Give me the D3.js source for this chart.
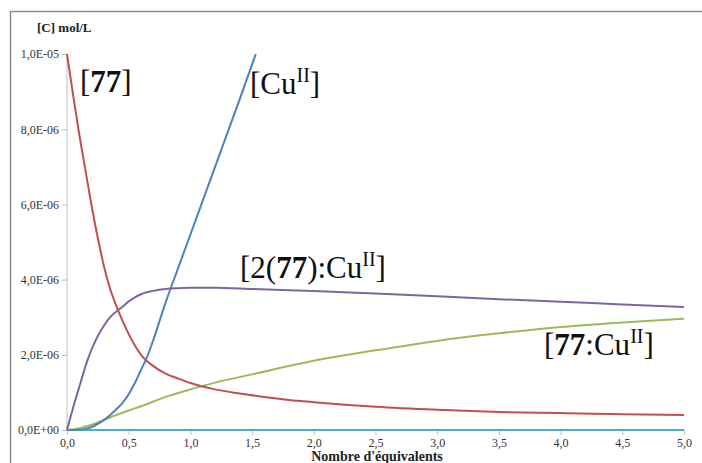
<!DOCTYPE html>
<html><head><meta charset="utf-8">
<script src="https://cdn.jsdelivr.net/npm/d3@7"></script>
<style>body{margin:0;background:#fff}svg{display:block}
svg text{font-family:"Liberation Serif","Times New Roman",Times,"DejaVu Serif",serif !important;}
</style>
</head><body>
<script>
const xTicks = [0,0.5,1,1.5,2,2.5,3,3.5,4,4.5,5];
const xTickLabels = ["0,0","0,5","1,0","1,5","2,0","2,5","3,0","3,5","4,0","4,5","5,0"];
const yTicks = [0,2e-6,4e-6,6e-6,8e-6,1e-5];
const yTickLabels = ["0,0E+00","2,0E-06","4,0E-06","6,0E-06","8,0E-06","1,0E-05"];

const ligandX = [0,0.05,0.1,0.15,0.2,0.25,0.3,0.35,0.4,0.45,0.5,0.55,0.6,0.7,0.8,0.9,1.0,1.2,1.4,1.6,1.8,2.0,2.5,3.0,3.5,4.0,4.5,5.0];
const ligandY = [10.0,8.9,7.85,6.9,5.95,5.1,4.35,3.75,3.3,2.9,2.55,2.25,2.0,1.7,1.5,1.37,1.25,1.08,0.97,0.88,0.8,0.74,0.62,0.54,0.48,0.45,0.42,0.40];

const complex2X = [0,0.05,0.1,0.15,0.2,0.25,0.3,0.35,0.4,0.45,0.5,0.55,0.6,0.7,0.8,0.9,1.0,1.2,1.5,2.0,2.5,3.0,3.5,4.0,4.5,5.0];
const complex2Y = [0,0.6,1.15,1.7,2.15,2.5,2.78,3.0,3.15,3.28,3.42,3.53,3.61,3.70,3.75,3.77,3.78,3.78,3.75,3.70,3.63,3.56,3.48,3.41,3.34,3.27];

const copperX = [0,0.1,0.15,0.2,0.25,0.3,0.35,0.4,0.45,0.5,0.55,0.6,0.65,0.7,0.8,0.9,1.0,1.1,1.2,1.3,1.4,1.53];
const copperY = [0,0.01,0.03,0.08,0.16,0.27,0.4,0.55,0.72,0.95,1.25,1.6,1.95,2.4,3.4,4.3,5.2,6.1,7.0,7.9,8.8,10.0];

const complex1X = [0,0.1,0.2,0.3,0.4,0.5,0.6,0.8,1.0,1.2,1.5,2.0,2.5,3.0,3.5,4.0,4.5,5.0];
const complex1Y = [0,0.05,0.14,0.27,0.4,0.52,0.63,0.88,1.08,1.26,1.48,1.84,2.12,2.37,2.57,2.74,2.86,2.96];

const freeX = [0,5];
const freeY = [0,0];

const W = 702, H = 463;
const svg = d3.select("body").append("svg").attr("width",W).attr("height",H);

// frame
svg.append("line").attr("x1",10.5).attr("x2",W).attr("y1",11.5).attr("y2",11.5).attr("stroke","#8c8c8c").attr("stroke-width",1.5);
svg.append("line").attr("x1",10.5).attr("x2",10.5).attr("y1",11).attr("y2",H).attr("stroke","#8c8c8c").attr("stroke-width",1.5);

const x = d3.scaleLinear().domain([0,5]).range([67,684]);
const y = d3.scaleLinear().domain([0,1e-5]).range([430,54]);

// y axis
const yAxis = d3.axisLeft(y).tickValues(yTicks).tickSize(5).tickFormat((d,i)=>yTickLabels[i]);
const gy = svg.append("g").attr("transform","translate(67,0)").call(yAxis);
gy.select(".domain").attr("stroke","#bfbfbf").attr("d","M0,54V430");
gy.selectAll(".tick line").attr("stroke","#bfbfbf");
gy.selectAll(".tick text").attr("font-size",12).attr("fill","#333").attr("x",-8);

// x axis
const xAxis = d3.axisBottom(x).tickValues(xTicks).tickSize(5).tickFormat((d,i)=>xTickLabels[i]);
const gx = svg.append("g").attr("transform","translate(0,430)").call(xAxis);
gx.select(".domain").attr("stroke","#bfbfbf").attr("d","M67,0H684");
gx.selectAll(".tick line").attr("stroke","#bfbfbf");
gx.selectAll(".tick text").attr("font-size",12).attr("fill","#333").attr("y",8);

const line = d3.line().x(d=>x(d[0])).y(d=>y(d[1]*1e-6)).curve(d3.curveMonotoneX);
function draw(xs, ys, color){
  svg.append("path").datum(xs.map((v,i)=>[v,ys[i]]))
    .attr("d",line).attr("fill","none").attr("stroke",color).attr("stroke-width",2);
}
draw(freeX, freeY, "#4bacc6");
draw(complex1X, complex1Y, "#9bbb59");
draw(copperX, copperY, "#4f81bd");
draw(complex2X, complex2Y, "#8064a2");
draw(ligandX, ligandY, "#c0504d");

// axis titles
svg.append("text").attr("x",37).attr("y",32).attr("font-weight","bold").attr("font-size",13).attr("fill","#222").text("[C] mol/L");
svg.append("text").attr("x",377).attr("y",461).attr("text-anchor","middle").attr("font-weight","bold").attr("font-size",14).attr("fill","#222").text("Nombre d'équivalents");

// series labels
function label(px, py, parts){
  const t = svg.append("text").attr("x",px).attr("y",py).attr("font-size",31).attr("fill","#111");
  parts.forEach(p=>{
    const s = t.append("tspan").text(p.t);
    if(p.b) s.attr("font-weight","bold");
    if(p.sup) s.attr("font-size",20).attr("dy",-12);
    if(p.down) s.attr("dy",12);
  });
}
label(80, 92, [{t:"["},{t:"77",b:true},{t:"]"}]);
label(250, 94, [{t:"[Cu"},{t:"II",sup:true},{t:"]",down:true}]);
label(240, 278, [{t:"[2("},{t:"77",b:true},{t:"):Cu"},{t:"II",sup:true},{t:"]",down:true}]);
label(544, 355, [{t:"["},{t:"77",b:true},{t:":Cu"},{t:"II",sup:true},{t:"]",down:true}]);
</script>
</body></html>
